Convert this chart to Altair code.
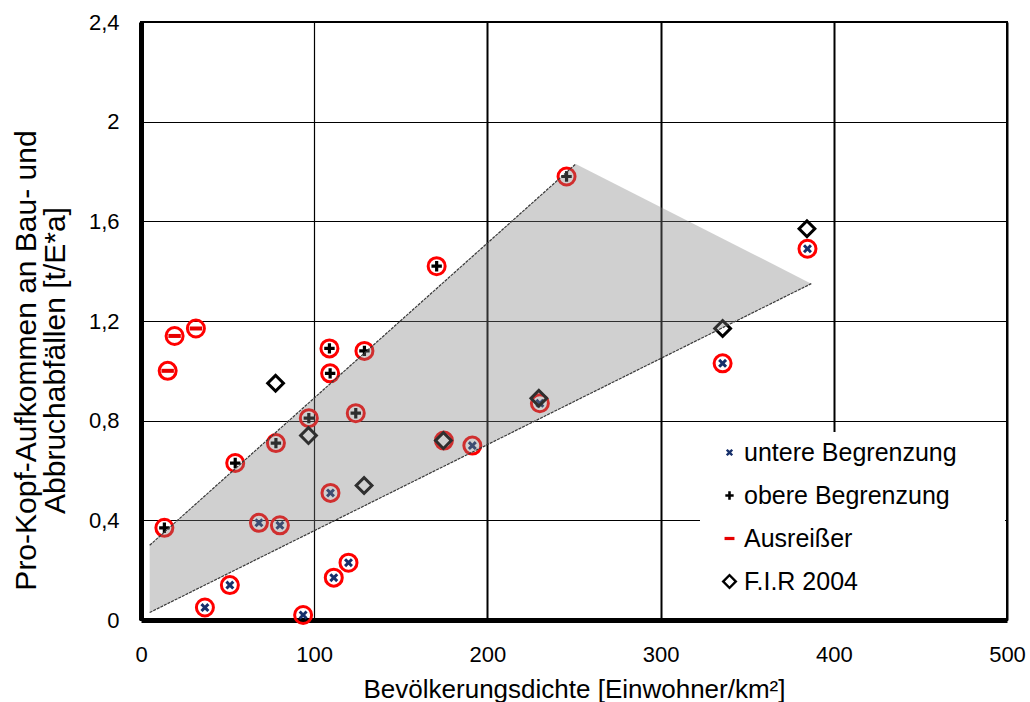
import altair as alt
import pandas as pd

# Bevölkerungsdichte [E/km²] und Pro-Kopf-Aufkommen [t/E*a] je Reihe
lower_x = [36.9, 51.3, 68.1, 80.2, 93.6, 109.4, 111.3, 119.8, 191.3, 230.3, 335.8, 384.8]
lower_y = [0.05, 0.14, 0.39, 0.38, 0.02, 0.51, 0.17, 0.23, 0.70, 0.87, 1.03, 1.49]

upper_x = [13.5, 54.4, 77.9, 96.9, 109.2, 108.8, 129.0, 124.0, 170.7, 245.7]
upper_y = [0.37, 0.63, 0.71, 0.81, 0.99, 1.09, 1.08, 0.83, 1.42, 1.78]

outlier_x = [15.4, 19.4, 31.7]
outlier_y = [1.00, 1.14, 1.17]

fir_x = [77.7, 96.7, 128.8, 174.6, 229.7, 335.8, 384.5]
fir_y = [0.95, 0.74, 0.54, 0.72, 0.89, 1.17, 1.57]

# weitere markierte Werte (Kreis ohne eigenes Symbol)
ring_extra_x = [174.9]
ring_extra_y = [0.72]

# Streubereich zwischen unterer und oberer Begrenzung
band_x = [5, 5, 251, 387]
band_y = [0.03, 0.30, 1.83, 1.35]

# Begrenzungslinien
edge_x = [5, 251, 5, 387]
edge_y = [0.30, 1.83, 0.03, 1.35]
edge_id = ["obere", "obere", "untere", "untere"]

series_names = ["untere Begrenzung", "obere Begrenzung", "Ausreißer", "F.I.R 2004"]
series_colors = ["#17306b", "#000000", "#e60000", "#000000"]

# Symbolpfade im gemeinsamen Raster [-1, 1]; alle Reihen nutzen dieselbe Markergröße
X_PATH = ("M-0.45,-0.24L-0.24,-0.45L0,-0.21L0.24,-0.45L0.45,-0.24L0.21,0L0.45,0.24"
          "L0.24,0.45L0,0.21L-0.24,0.45L-0.45,0.24L-0.21,0Z")
PLUS_PATH = ("M-0.52,-0.16L-0.16,-0.16L-0.16,-0.52L0.16,-0.52L0.16,-0.16L0.52,-0.16"
             "L0.52,0.16L0.16,0.16L0.16,0.52L-0.16,0.52L-0.16,0.16L-0.52,0.16Z")
DASH_PATH = "M-0.62,-0.2L0.62,-0.2L0.62,0.2L-0.62,0.2Z"
DIAMOND_PATH = "M0,-1L1,0L0,1L-1,0Z M0,-0.58L-0.58,0L0,0.58L0.58,0Z"
series_shapes = [X_PATH, PLUS_PATH, DASH_PATH, DIAMOND_PATH]

FONT = "Liberation Sans"

points = pd.DataFrame({
    "dichte": lower_x + upper_x + outlier_x + fir_x,
    "wert": lower_y + upper_y + outlier_y + fir_y,
    "reihe": [series_names[0]] * len(lower_x)
    + [series_names[1]] * len(upper_x)
    + [series_names[2]] * len(outlier_x)
    + [series_names[3]] * len(fir_x),
})

rings = pd.DataFrame({
    "dichte": lower_x + upper_x + outlier_x + ring_extra_x,
    "wert": lower_y + upper_y + outlier_y + ring_extra_y,
})

band = pd.DataFrame({"dichte": band_x, "wert": band_y, "i": list(range(len(band_x)))})
edges = pd.DataFrame({"dichte": edge_x, "wert": edge_y, "kante": edge_id})

x_scale = alt.Scale(domain=[0, 500], nice=False)
y_scale = alt.Scale(domain=[0, 2.4], nice=False)

x_axis = alt.Axis(
    values=[0, 100, 200, 300, 400, 500],
    title="Bevölkerungsdichte [Einwohner/km²]",
    grid=True,
    gridColor="black",
    gridOpacity=1,
    gridWidth={"condition": {"test": "datum.value === 100", "value": 1.2}, "value": 2},
    domainColor="black",
    domainWidth=5,
    ticks=False,
    labelFlush=False,
    labelOverlap=False,
    labelFont=FONT,
    labelFontSize=22,
    labelColor="black",
    labelPadding=24,
    titleFont=FONT,
    titleFontSize=26,
    titleFontWeight="normal",
    titleColor="black",
    titlePadding=11,
)

y_axis = alt.Axis(
    values=[0, 0.4, 0.8, 1.2, 1.6, 2, 2.4],
    labelExpr="replace(format(datum.value, '~g'), '.', ',')",
    title=["Pro-Kopf-Aufkommen an Bau- und", "Abbruchabfällen [t/E*a]"],
    grid=True,
    gridColor="black",
    gridOpacity=1,
    gridWidth=1.2,
    domainColor="black",
    domainWidth=5,
    ticks=False,
    labelFlush=False,
    labelOverlap=False,
    labelFont=FONT,
    labelFontSize=22,
    labelColor="black",
    labelPadding=22,
    titleFont=FONT,
    titleFontSize=30,
    titleFontWeight="normal",
    titleColor="black",
    titleLineHeight=29,
    titleY=338,
    titlePadding=18,
)

legend = alt.Legend(
    title=None,
    orient="none",
    legendX=568,
    legendY=410,
    fillColor="white",
    padding=8,
    labelFont=FONT,
    labelFontSize=25,
    labelColor="black",
    labelOffset=2,
    labelLimit=400,
    rowPadding=17,
    symbolSize=256,
    symbolStrokeWidth=0,
)

ring_layer = alt.Chart(rings).mark_point(
    shape="circle", filled=False, color="#ff0000", strokeWidth=3, size=289, opacity=1
).encode(
    x=alt.X("dichte:Q", scale=x_scale, axis=x_axis),
    y=alt.Y("wert:Q", scale=y_scale, axis=y_axis),
)

point_layer = alt.Chart(points).mark_point(
    filled=True, opacity=1, strokeWidth=0, size=400
).encode(
    x=alt.X("dichte:Q", scale=x_scale),
    y=alt.Y("wert:Q", scale=y_scale),
    color=alt.Color("reihe:N", scale=alt.Scale(domain=series_names, range=series_colors), legend=legend),
    shape=alt.Shape("reihe:N", scale=alt.Scale(domain=series_names, range=series_shapes), legend=legend),
)

band_layer = alt.Chart(band).mark_line(
    fill="#808080", fillOpacity=0.37, strokeWidth=0, interpolate="linear-closed"
).encode(
    x=alt.X("dichte:Q", scale=x_scale),
    y=alt.Y("wert:Q", scale=y_scale),
    order=alt.Order("i:Q"),
)

edge_layer = alt.Chart(edges).mark_line(
    color="#3a3a3a", strokeWidth=1.2, strokeDash=[3, 1]
).encode(
    x=alt.X("dichte:Q", scale=x_scale),
    y=alt.Y("wert:Q", scale=y_scale),
    detail="kante:N",
)

# weißer Hintergrund des Legendenfeldes bis zum rechten Rahmen
legend_box = alt.Chart(pd.DataFrame({"feld": ["legende"]})).mark_rect(
    color="white"
).encode(
    x=alt.value(559), x2=alt.value(864), y=alt.value(411), y2=alt.value(596)
)

chart = alt.layer(ring_layer, point_layer, band_layer, edge_layer, legend_box).properties(
    width=866,
    height=598,
    autosize=alt.AutoSizeParams(type="none"),
    padding={"left": 141, "top": 22, "right": 23, "bottom": 82},
    background="white",
).configure_view(
    stroke="black", strokeWidth=2
)

chart.save("out.html", embed_options={"renderer": "svg", "actions": False})
